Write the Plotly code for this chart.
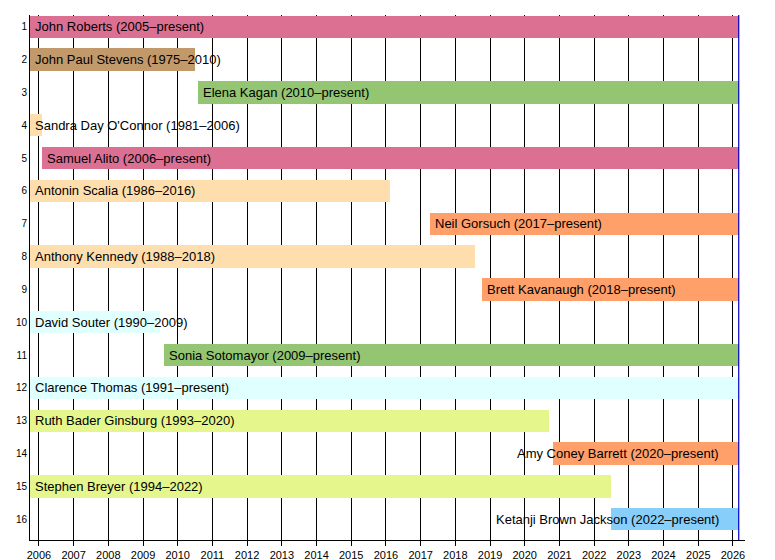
import plotly.graph_objects as go
import pandas as pd

names = ["John Roberts (2005–present)", "John Paul Stevens (1975–2010)", "Elena Kagan (2010–present)",
         "Sandra Day O'Connor (1981–2006)", "Samuel Alito (2006–present)", "Antonin Scalia (1986–2016)",
         "Neil Gorsuch (2017–present)", "Anthony Kennedy (1988–2018)", "Brett Kavanaugh (2018–present)",
         "David Souter (1990–2009)", "Sonia Sotomayor (2009–present)", "Clarence Thomas (1991–present)",
         "Ruth Bader Ginsburg (1993–2020)", "Amy Coney Barrett (2020–present)", "Stephen Breyer (1994–2022)",
         "Ketanji Brown Jackson (2022–present)"]
today = "2026-03-03"
starts = ["2005-09-29", "1975-12-19", "2010-08-07", "1981-09-25", "2006-01-31", "1986-09-26",
          "2017-04-10", "1988-02-18", "2018-10-06", "1990-10-09", "2009-08-08", "1991-10-23",
          "1993-08-10", "2020-10-27", "1994-08-03", "2022-06-30"]
ends = [today, "2010-06-29", today, "2006-01-31", today, "2016-02-13",
        today, "2018-07-31", today, "2009-06-29", today, today,
        "2020-09-18", today, "2022-06-30", today]
colors = ["#DB7093", "#C1996B", "#93C572", "#FFDEAD", "#DB7093", "#FFDEAD",
          "#FF9F6A", "#FFDEAD", "#FF9F6A", "#E0FFFF", "#93C572", "#E0FFFF",
          "#E4F68C", "#FF9F6A", "#E4F68C", "#87CEFA"]
right_labels = {"Amy Coney Barrett (2020–present)", "Ketanji Brown Jackson (2022–present)"}
rows = list(range(1, 17))
x_start = "2005-09-29"
x_end = "2026-05-08"

s = pd.to_datetime(starts)
e = pd.to_datetime(ends)
dur = [(b - a).total_seconds() * 1000 for a, b in zip(s, e)]

fig = go.Figure()
fig.add_trace(go.Bar(
    y=rows, x=dur, base=starts, orientation="h",
    marker=dict(color=colors, line=dict(width=0)),
    width=0.68, hoverinfo="skip", showlegend=False,
))

xs = pd.Timestamp(x_start)
for r, n, a, b in zip(rows, names, s, e):
    if n in right_labels:
        fig.add_annotation(x=b.strftime("%Y-%m-%d"), y=r, text=n, showarrow=False,
                           xanchor="right", xshift=-18, font=dict(size=13, color="black"))
    else:
        xx = max(a, xs)
        fig.add_annotation(x=xx.strftime("%Y-%m-%d"), y=r, text=n, showarrow=False,
                           xanchor="left", xshift=3, font=dict(size=13, color="black"))

fig.add_shape(type="line", x0=today, x1=today, y0=0, y1=1, yref="paper",
              line=dict(color="#0000CC", width=1.2))

fig.update_layout(
    width=775, height=560,
    margin=dict(l=30, r=30, t=15, b=20),
    plot_bgcolor="white", paper_bgcolor="white",
    font=dict(family="Liberation Sans, Arial, sans-serif", color="black"),
    bargap=0,
    xaxis=dict(type="date", range=[x_start, x_end], dtick="M12", tick0="2006-01-01",
               tickformat="%Y", showgrid=True, gridcolor="black", gridwidth=1,
               showline=True, linecolor="black", linewidth=1, ticks="outside",
               ticklen=5, tickcolor="black", tickfont=dict(size=11), zeroline=False,
               automargin=False),
    yaxis=dict(range=[16.63, 0.64], tickvals=rows, ticktext=[str(r) for r in rows],
               showgrid=False, showline=True, linecolor="black", linewidth=1,
               ticks="", tickfont=dict(size=10), zeroline=False, automargin=False),
)

fig.write_html("out.html", config={"displayModeBar": False},
               post_script="document.body.style.margin='0';document.body.style.overflow='hidden';")
